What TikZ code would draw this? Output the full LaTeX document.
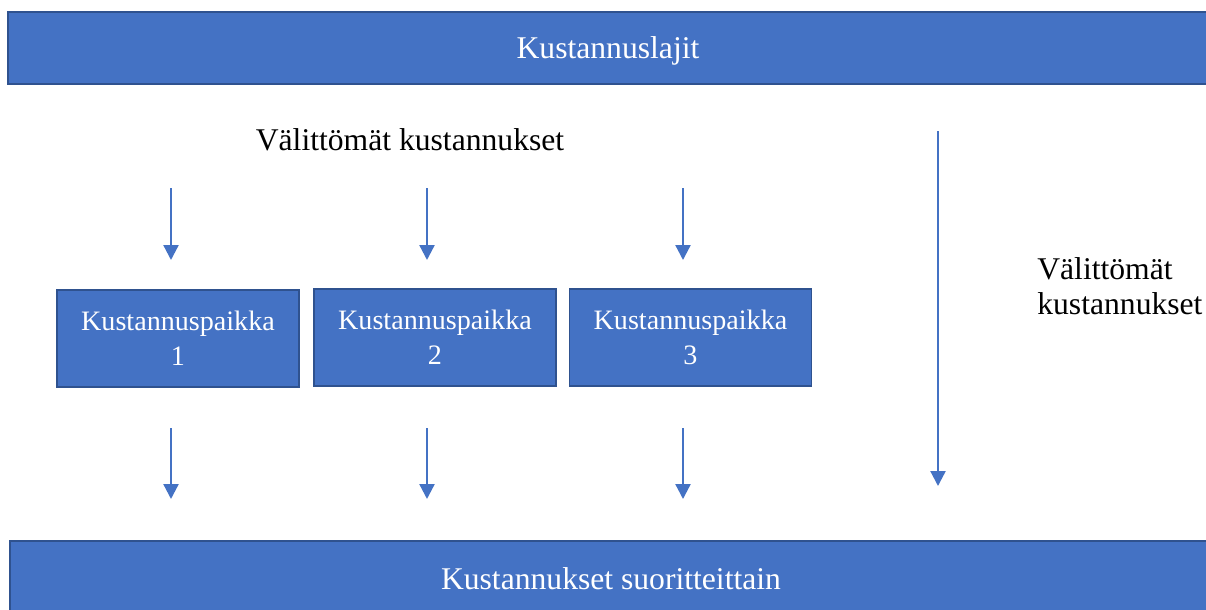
\documentclass[tikz,border=0pt]{standalone}
\usepackage{fontspec}
\setmainfont{Liberation Serif}
\usepackage{tikz}
\usetikzlibrary{arrows.meta}
\usepackage{xcolor}
\definecolor{boxblue}{HTML}{4472C4}
\definecolor{boxedge}{HTML}{2F528F}

\begin{document}
\begin{tikzpicture}[x=0.02cm,y=-0.02cm]
		\tikzstyle{bar} = [rectangle,fill=boxblue,text=white,minimum height=1.44cm,font=\fontsize{18}{22}\selectfont]
		\tikzstyle{rim} = [draw=boxedge,line width=1pt]
		\tikzstyle{place} = [rectangle,fill=boxblue,draw=boxedge,line width=1pt,text=white,minimum width=4.84cm,minimum height=1.94cm,align=center,font=\fontsize{16}{20}\selectfont]
		\tikzstyle{plain} = [font=\fontsize{18}{20}\selectfont,inner sep=0pt]
		\tikzstyle{flow} = [-{Triangle[length=8.5pt,width=8.5pt]},draw=boxblue,line width=1.3pt]
		\useasboundingbox (0,0) rectangle (1206,609);
		\node[bar,minimum width=24cm,text height=12pt,text depth=0.6pt] (n1) at (608,48) {Kustannuslajit};
		\node[bar,minimum width=24.04cm,minimum height=1.48cm,text height=13.6pt,text depth=0pt] (n2) at (611,578) {Kustannukset suoritteittain};
		\draw[rim] (n1.north east)--(n1.north west)--(n1.south west)--(n1.south east);
		\draw[rim] (n2.north east)--(n2.north west)--(n2.south west);
		\node[plain] (n3) at (410,140) {Välittömät kustannukset};
		\node[plain,align=left,anchor=west] (n4) at (1037,286) {Välittömät\\kustannukset};
		\node[place] (n5) at (178,338.5) {Kustannuspaikka\\1};
		\node[place] (n6) at (435,337.5) {Kustannuspaikka\\2};
		\node[place] (n7) at (690.5,337.5) {Kustannuspaikka\\3};
		\coordinate (a1) at (171,188);
		\coordinate (b1) at (171,260);
		\coordinate (a2) at (427,188);
		\coordinate (b2) at (427,260);
		\coordinate (a3) at (683,188);
		\coordinate (b3) at (683,260);
		\coordinate (c1) at (171,428);
		\coordinate (d1) at (171,499);
		\coordinate (c2) at (427,428);
		\coordinate (d2) at (427,499);
		\coordinate (c3) at (683,428);
		\coordinate (d3) at (683,499);
		\coordinate (e1) at (938,131);
		\coordinate (e2) at (938,486);
		\draw[flow] (a1)--(b1);
		\draw[flow] (a2)--(b2);
		\draw[flow] (a3)--(b3);
		\draw[flow] (c1)--(d1);
		\draw[flow] (c2)--(d2);
		\draw[flow] (c3)--(d3);
		\draw[flow] (e1)--(e2);
		\end{tikzpicture}
\end{document}
